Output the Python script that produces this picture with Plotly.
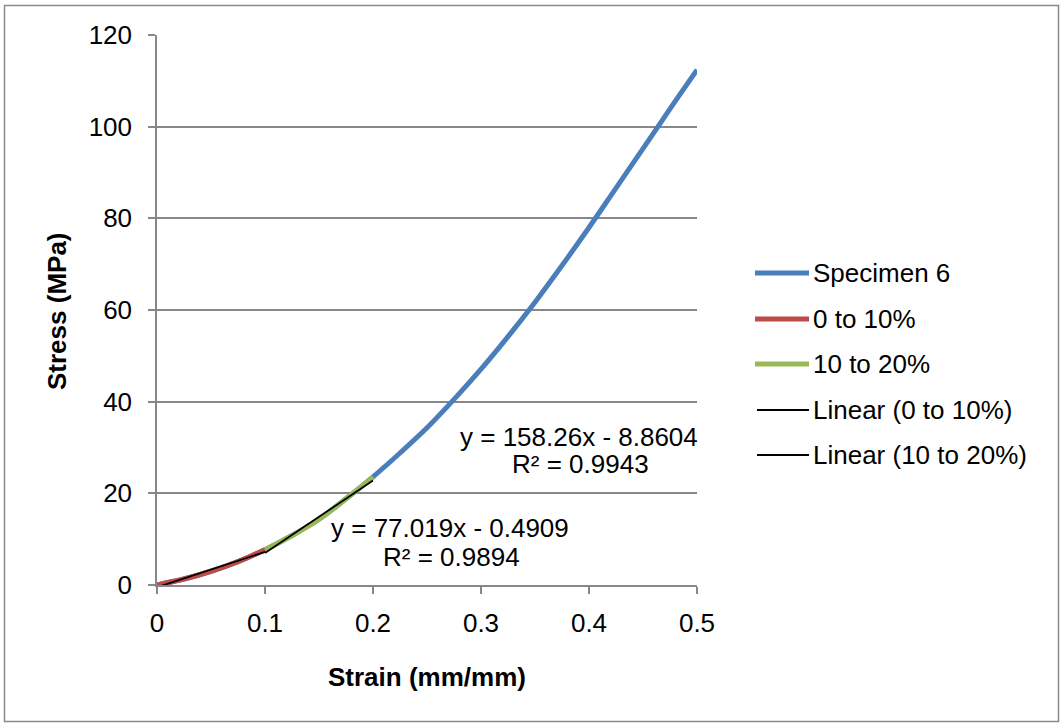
import plotly.graph_objects as go

# Stress-strain record for specimen 6
strain = [0.0, 0.025, 0.05, 0.075, 0.1, 0.125, 0.15, 0.175, 0.2, 0.225, 0.25,
          0.275, 0.3, 0.325, 0.35, 0.375, 0.4, 0.425, 0.45, 0.475, 0.5]
stress = [0.0, 1.3, 3.0, 5.1, 7.7, 10.8, 14.35, 18.8, 23.6, 28.8, 34.3,
          40.5, 47.1, 54.2, 61.7, 69.7, 78.0, 86.6, 95.2, 103.9, 112.4]

# Strain windows used for the linear fits
seg_names = ["0 to 10%", "10 to 20%"]
seg_bounds = [(0.0, 0.1), (0.1, 0.2)]

# Linear trendline coefficients (slope, intercept, R²)
fit_slope = [77.019, 158.26]
fit_intercept = [-0.4909, -8.8604]
fit_r2 = [0.9894, 0.9943]

x_ticks = [0, 0.1, 0.2, 0.3, 0.4, 0.5]
y_ticks = [0, 20, 40, 60, 80, 100, 120]

FONT = "Liberation Sans, Arial, sans-serif"
FS = 26
BLUE, RED, GREEN = "#4A7EBB", "#BE4B48", "#98B954"
GRID = "#878787"

# plot area geometry (pixels)
W_FIG, H_FIG = 1061, 723
L, T, W, H = 157, 35, 540, 550


def px(xp):
    return (xp - L) / W


def py(yp):
    return (T + H - yp) / H


def segment(lo, hi):
    idx = [i for i, s in enumerate(strain) if lo - 1e-9 <= s <= hi + 1e-9]
    return [strain[i] for i in idx], [stress[i] for i in idx]


fig = go.Figure()

fig.add_trace(go.Scatter(x=strain, y=stress, mode="lines", name="Specimen 6",
                         line=dict(color=BLUE, width=5, shape="spline"),
                         showlegend=False))

seg_colors = [RED, GREEN]
for name, (lo, hi), c in zip(seg_names, seg_bounds, seg_colors):
    sx, sy = segment(lo, hi)
    fig.add_trace(go.Scatter(x=sx, y=sy, mode="lines", name=name,
                             line=dict(color=c, width=5, shape="spline"),
                             showlegend=False))

for name, (lo, hi), m, b in zip(seg_names, seg_bounds, fit_slope, fit_intercept):
    fx = [lo, hi]
    fy = [m * v + b for v in fx]
    fig.add_trace(go.Scatter(x=fx, y=fy, mode="lines", name=f"Linear ({name})",
                             line=dict(color="black", width=1.8),
                             showlegend=False))

shapes = []
annotations = []

# outer chart frame
shapes.append(dict(type="rect", xref="paper", yref="paper",
                   x0=px(4.5), x1=px(1058.5), y0=py(721.5), y1=py(5.5),
                   line=dict(color="#8a8a8a", width=1.5), layer="below"))

# legend
legend_items = [("Specimen 6", BLUE, 5), (seg_names[0], RED, 5),
                (seg_names[1], GREEN, 5),
                (f"Linear ({seg_names[0]})", "black", 1.8),
                (f"Linear ({seg_names[1]})", "black", 1.8)]
legend_y = [273, 319, 364, 410, 455]
for (label, color, lw), ly in zip(legend_items, legend_y):
    x0, x1 = (755, 809) if lw > 2 else (757, 809)
    shapes.append(dict(type="line", xref="paper", yref="paper",
                       x0=px(x0), x1=px(x1), y0=py(ly), y1=py(ly),
                       line=dict(color=color, width=lw)))
    annotations.append(dict(xref="paper", yref="paper", x=px(811), y=py(ly),
                            text=label, showarrow=False, xanchor="left",
                            yanchor="middle", font=dict(family=FONT, size=FS, color="black")))

# trendline equation labels
eq_pos = [((450, 528), (451, 557)), ((579, 437), (580, 464))]
for m, b, r2, (p1, p2) in zip(fit_slope, fit_intercept, fit_r2, eq_pos):
    sign = "-" if b < 0 else "+"
    annotations.append(dict(xref="paper", yref="paper", x=px(p1[0]), y=py(p1[1]),
                            text=f"y = {m:g}x {sign} {abs(b):g}", showarrow=False,
                            xanchor="center", yanchor="middle",
                            font=dict(family=FONT, size=FS, color="black")))
    annotations.append(dict(xref="paper", yref="paper", x=px(p2[0]), y=py(p2[1]),
                            text=f"R² = {r2:.4f}", showarrow=False,
                            xanchor="center", yanchor="middle",
                            font=dict(family=FONT, size=FS, color="black")))

# axis titles
annotations.append(dict(xref="paper", yref="paper", x=px(427), y=py(677),
                        text="<b>Strain (mm/mm)</b>", showarrow=False,
                        xanchor="center", yanchor="middle",
                        font=dict(family=FONT, size=FS, color="black")))
annotations.append(dict(xref="paper", yref="paper", x=px(57), y=py(311),
                        text="<b>Stress (MPa)</b>", showarrow=False, textangle=-90,
                        xanchor="center", yanchor="middle",
                        font=dict(family=FONT, size=FS, color="black")))

fig.update_layout(
    width=W_FIG, height=H_FIG,
    margin=dict(l=L, r=W_FIG - L - W, t=T, b=H_FIG - T - H, autoexpand=False),
    paper_bgcolor="white", plot_bgcolor="white",
    font=dict(family=FONT, size=FS, color="black"),
    showlegend=False,
    shapes=shapes, annotations=annotations,
)
fig.update_xaxes(range=[0, 0.5], tickvals=x_ticks, ticktext=[f"{v:g}" for v in x_ticks],
                 showgrid=False, zeroline=False, showline=True, linecolor=GRID,
                 linewidth=1.5, ticks="outside", ticklen=7, tickcolor=GRID,
                 tickwidth=1.5, ticklabelstandoff=7,
                 tickfont=dict(family=FONT, size=FS, color="black"))
fig.update_yaxes(range=[0, 120], tickvals=y_ticks, ticktext=[str(v) for v in y_ticks],
                 showgrid=True, gridcolor=GRID, gridwidth=1.5, zeroline=False,
                 showline=True, linecolor=GRID, linewidth=1.5, ticks="outside",
                 ticklen=7, tickcolor=GRID, tickwidth=1.5, ticklabelstandoff=11,
                 tickfont=dict(family=FONT, size=FS, color="black"))

fig.write_html("out.html")
